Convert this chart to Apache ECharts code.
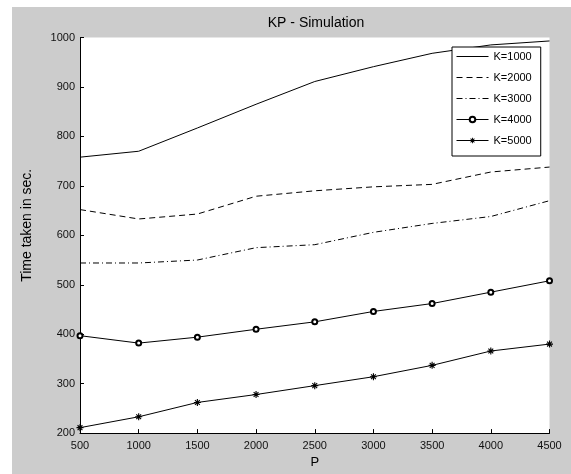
<!DOCTYPE html>
<html>
<head>
<meta charset="utf-8">
<script src="https://cdn.jsdelivr.net/npm/echarts@6/dist/echarts.min.js"></script>
<style>
    html, body { margin: 0; padding: 0; background: #fff; }
    #wrap { position: relative; width: 571px; height: 474px; background: #fff; }
    .chart { position: absolute; left: 12px; top: 7px; width: 559px; height: 467px; }
</style>
</head>
<body>
<div id="wrap"><div class="chart"></div></div>
<script>
// data
var pValues = [500, 1000, 1500, 2000, 2500, 3000, 3500, 4000, 4500];
var k1000 = [758, 770, 817, 865, 911, 941, 968, 985, 993];
var k2000 = [652, 633, 643, 679, 690, 698, 703, 728, 738];
var k3000 = [544, 544, 550, 575, 581, 606, 624, 638, 670];
var k4000 = [397, 382, 394, 410, 425, 446, 462, 485, 508];
var k5000 = [211, 233, 262, 278, 296, 314, 337, 366, 380];

// asterisk marker, like matlab '*'
var asterisk = 'path://M4.2,0L5.8,0L5.8,10L4.2,10Z M0,4.2L10,4.2L10,5.8L0,5.8Z M1,2.1L2.1,1L9,7.9L7.9,9Z M7.9,1L9,2.1L2.1,9L1,7.9Z';

function pairs(ys) {
    return pValues.map(function (p, i) { return [p, ys[i]]; });
}

window.onload = function () {
    var myChart = echarts.init(document.querySelector(".chart"));
    var font = "Liberation Sans, Arial, sans-serif";

    function mkSeries(name, ys, dash, symbol, size) {
        return {
            name: name,
            type: "line",
            data: pairs(ys),
            symbol: symbol,
            symbolSize: size,
            showSymbol: symbol !== "none",
            lineStyle: { color: "#000", width: 1, type: dash },
            itemStyle: { color: "#000", borderWidth: 1 },
            animation: false
        };
    }

    // lines without markers: hide the legend symbol
    var noMark = { opacity: 0 };

    var option = {
        backgroundColor: "#cccccc",
        animation: false,
        title: {
            text: "KP - Simulation",
            left: 299,
            top: 4,
            textAlign: "center",
            textStyle: { fontFamily: font, fontSize: 14, fontWeight: "normal", color: "#000" }
        },
        legend: {
            orient: "vertical",
            left: 440,
            top: 40,
            padding: [4, 9, 10, 4],
            itemWidth: 32,
            itemHeight: 7,
            itemGap: 10,
            backgroundColor: "#fff",
            borderColor: "#000",
            borderWidth: 1,
            borderRadius: 0,
            lineStyle: { width: 1 },
            itemStyle: { borderWidth: 1 },
            textStyle: { fontFamily: font, fontSize: 11, color: "#000" },
            data: [
                { name: "K=1000", itemStyle: noMark },
                { name: "K=2000", itemStyle: noMark },
                { name: "K=3000", itemStyle: noMark },
                "K=4000",
                "K=5000"
            ]
        },
        grid: {
            left: 64,
            top: 30.5,
            right: 21.5,
            bottom: 31.5,
            show: true,
            backgroundColor: "#fff",
            borderWidth: 0
        },
        xAxis: {
            type: "value",
            min: 500,
            max: 4500,
            interval: 500,
            name: "P",
            nameLocation: "middle",
            nameGap: 15,
            nameTextStyle: { fontFamily: font, fontSize: 13, color: "#000", verticalAlign: "top" },
            axisLine: { lineStyle: { color: "#000", width: 1 } },
            axisTick: { inside: true, length: 4, lineStyle: { color: "#000" } },
            axisLabel: {
                fontFamily: font, fontSize: 11, color: "#111", margin: 7,
                formatter: function (v) { return String(v); }
            },
            splitLine: { show: false }
        },
        yAxis: {
            type: "value",
            min: 200,
            max: 1000,
            interval: 100,
            name: "Time taken in sec.",
            nameLocation: "middle",
            nameGap: 46,
            nameTextStyle: { fontFamily: font, fontSize: 14, color: "#000", padding: [0, 0, 0, 20] },
            axisLine: { show: true, lineStyle: { color: "#000", width: 1 } },
            axisTick: { show: true, inside: true, length: 4, lineStyle: { color: "#000" } },
            axisLabel: {
                fontFamily: font, fontSize: 11, color: "#111", margin: 5,
                formatter: function (v) { return String(v); }
            },
            splitLine: { show: false }
        },
        series: [
            mkSeries("K=1000", k1000, "solid", "none", 0),
            mkSeries("K=2000", k2000, [6, 4], "none", 0),
            mkSeries("K=3000", k3000, [6, 3, 1, 3], "none", 0),
            mkSeries("K=4000", k4000, "solid", "emptyCircle", 5),
            mkSeries("K=5000", k5000, "solid", asterisk, 7)
        ]
    };

    myChart.setOption(option);
};
</script>
</body>
</html>
